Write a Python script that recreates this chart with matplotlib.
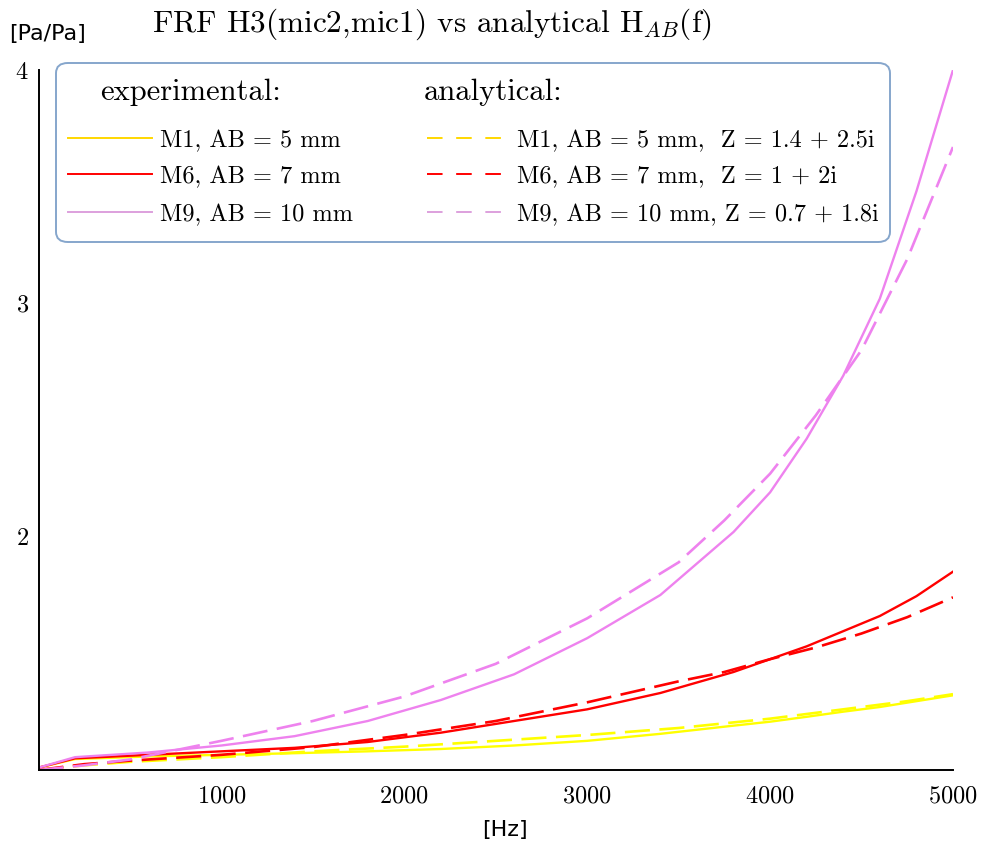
import matplotlib
matplotlib.use("Agg")
import matplotlib.pyplot as plt
from matplotlib.lines import Line2D
from matplotlib.patches import FancyBboxPatch

plt.rcParams['mathtext.fontset'] = 'cm'
plt.rcParams['axes.formatter.use_mathtext'] = True

# experimental FRF H3(mic2,mic1)
freq_exp = [0, 200, 600, 1000, 1400, 1800, 2200, 2600, 3000, 3400, 3800,
            4000, 4200, 4400, 4600, 4800, 5000]
m1_exp = [1.01, 1.047, 1.058, 1.065, 1.072, 1.08, 1.09, 1.105, 1.125, 1.155,
          1.19, 1.207, 1.228, 1.25, 1.27, 1.295, 1.32]
m6_exp = [1.01, 1.05, 1.065, 1.08, 1.095, 1.12, 1.16, 1.21, 1.26, 1.33, 1.42,
          1.475, 1.53, 1.595, 1.66, 1.745, 1.85]
m9_exp = [1.01, 1.055, 1.075, 1.105, 1.145, 1.21, 1.30, 1.41, 1.565, 1.75,
          2.02, 2.19, 2.42, 2.69, 3.02, 3.48, 4.00]

# analytical H_AB(f)
freq_an = [0, 250, 500, 1000, 1500, 2000, 2500, 3000, 3500, 3750, 4000,
           4250, 4500, 4750, 5000]
m1_an = [1.0, 1.02, 1.035, 1.055, 1.08, 1.10, 1.125, 1.15, 1.18, 1.2, 1.22,
         1.245, 1.27, 1.295, 1.325]
m6_an = [1.0, 1.025, 1.04, 1.065, 1.098, 1.15, 1.21, 1.29, 1.38, 1.42, 1.475,
         1.525, 1.585, 1.655, 1.74]
m9_an = [1.0, 1.02, 1.045, 1.125, 1.21, 1.315, 1.455, 1.65, 1.89, 2.07, 2.27,
         2.52, 2.80, 3.19, 3.67]

exp_labels = ["M1, AB = 5 mm", "M6, AB = 7 mm", "M9, AB = 10 mm"]
an_labels = ["M1, AB = 5 mm,  Z = 1.4 + 2.5i", "M6, AB = 7 mm,  Z = 1 + 2i",
             "M9, AB = 10 mm, Z = 0.7 + 1.8i"]
colors = ['#FFFF00', '#FF0000', '#EE82EE']
legend_colors = ['#FFD700', '#FF0000', '#DDA0DD']

W, H = 985, 846
fig = plt.figure(figsize=(W / 100, H / 100), dpi=100)
ax = fig.add_axes([38.5 / W, 1 - 770 / H, (953 - 38.5) / W, 700 / H])

def px(x, y):
    # figure pixel (from top-left) -> figure fraction
    return x / W, 1 - y / H

for ys, c in zip([m1_exp, m6_exp, m9_exp], colors):
    ax.plot(freq_exp, ys, color=c, lw=1.7)
for ys, c in zip([m1_an, m6_an, m9_an], colors):
    ln, = ax.plot(freq_an, ys, color=c, lw=1.9)
    ln.set_dashes((9.5, 3.6))

ax.set_xlim(0, 5000)
ax.set_ylim(1, 4)
ax.set_xticks([1000, 2000, 3000, 4000, 5000])
ax.set_yticks([2, 3, 4])
ax.tick_params(length=0, labelsize=17.5)
ax.tick_params(axis='x', pad=11)
ax.tick_params(axis='y', pad=7)
for lab in ax.get_xticklabels() + ax.get_yticklabels():
    lab.set_family('cmr10')
for s in ['top', 'right']:
    ax.spines[s].set_visible(False)
for s in ['left', 'bottom']:
    ax.spines[s].set_linewidth(1.4)

fig.text(*px(152, 32), r"FRF H3(mic2,mic1) vs analytical H$_{AB}$(f)",
         family='cmr10', fontsize=22.5, ha='left', va='baseline')
fig.text(*px(9, 34), "[Pa/Pa]", family='DejaVu Sans', fontsize=16,
         ha='left', va='center')
fig.text(*px(505, 830), "[Hz]", family='DejaVu Sans', fontsize=16,
         ha='center', va='center')

# legend box drawn by hand (two headed columns)
x0, y0 = px(56, 242)
x1, y1 = px(890, 63)
box = FancyBboxPatch((x0, y0), x1 - x0, y1 - y0, transform=fig.transFigure,
                     boxstyle="round,pad=0,rounding_size=0.012",
                     facecolor='white', edgecolor='#86A6CC', lw=1.4)
fig.add_artist(box)
fig.text(*px(100, 100), "experimental:", family='cmr10', fontsize=22,
         ha='left', va='baseline')
fig.text(*px(424, 100), "analytical:", family='cmr10', fontsize=22,
         ha='left', va='baseline')
row_y = [138, 174, 212]
for i in range(3):
    xa, ya = px(68, row_y[i])
    xb, _ = px(152, row_y[i])
    fig.add_artist(Line2D([xa, xb], [ya, ya], transform=fig.transFigure,
                          color=legend_colors[i], lw=1.4))
    fig.text(*px(160, row_y[i] + 9), exp_labels[i], family='cmr10',
             fontsize=17.5, ha='left', va='baseline')
    xa, ya = px(427, row_y[i])
    xb, _ = px(503, row_y[i])
    dl = Line2D([xa, xb], [ya, ya], transform=fig.transFigure,
                color=legend_colors[i], lw=1.4)
    dl.set_dashes((8, 7))
    fig.add_artist(dl)
    fig.text(*px(517, row_y[i] + 9), an_labels[i], family='cmr10',
             fontsize=17.5, ha='left', va='baseline')

fig.savefig("out.png", dpi=100)
